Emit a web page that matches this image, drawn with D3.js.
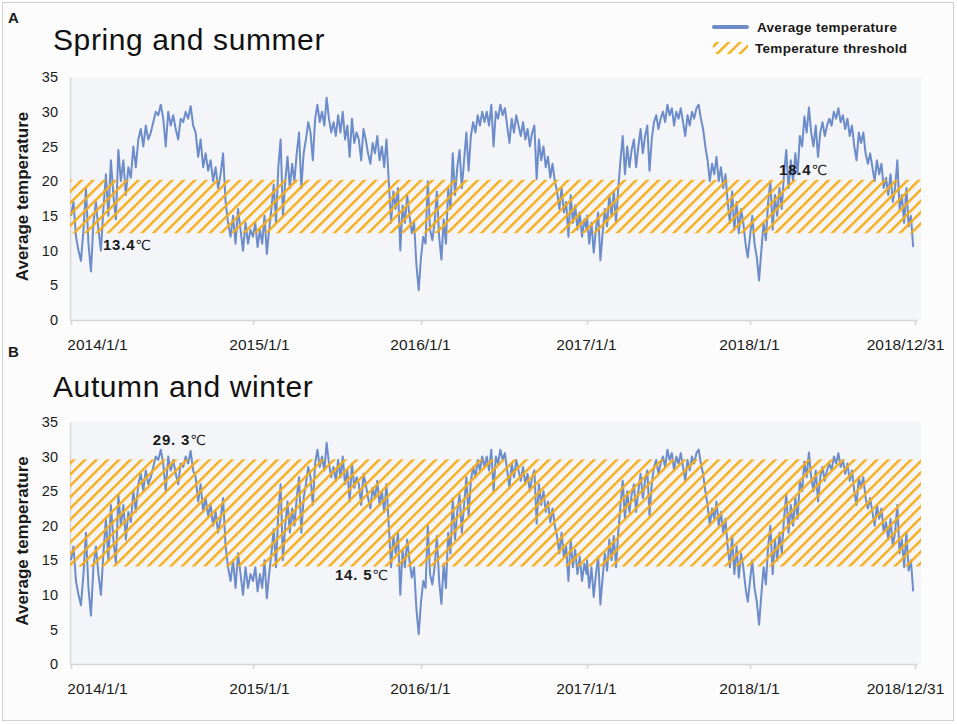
<!DOCTYPE html>
<html>
<head>
<meta charset="utf-8">
<script src="https://cdn.jsdelivr.net/npm/d3@7"></script>
<style>
  body { margin: 0; background: #fff; }
  svg { display: block; font-family: "Liberation Sans", Arial, sans-serif; }
</style>
</head>
<body>
<svg id="chart" width="957" height="724"></svg>
<script>
// daily mean temperature, one reading every 5 days from Jan 1 of each year
const years = [2014, 2015, 2016, 2017, 2018];
const temp2014 = [15,17,12,10,8.5,13,19,11,7,14,17,13,10,16,21,15,23,18,14.5,24.5,20,23,18,22,20.5,25,22,26,27.5,25,28,26,27,28.5,30,29.5,31,29,25,30,28,29.5,27.5,26,29,28.5,30,29,30.8,28,27,23.5,26,22,24,21.5,23,20,22,19,21,24,17,14,12,15,11,16,13,10,14,11,13];
const temp2015 = [12,14,10.5,13,11,15,9.5,13,16,19.5,14,22,26,15,20,23.5,19,22.5,20,24,27,19,24,26,28.5,27,23,29,31,28.5,30,28,32,29,27,28.5,26.5,29.5,27,30,26,28,23.5,29,25.5,27,26,23,27.5,26,24,22.5,25.5,24,26.5,23,25,22,26,20,14,18.5,16,19,10,16.5,14,18,15,12.5,14,8,4.3];
const temp2016 = [9,12,11,20,13,11.5,14,18.5,12,8.7,14.5,11,19,16,24,18,22,24.5,19,23,27,21.5,26.5,28.5,27,29.5,28,30,28.5,30,28,31,25,30,29,31,29.5,30.5,28,25.5,29,27,29.5,28,26.5,28.5,26,27.5,25,27,28,20.3,26,23,25,22,23.5,20.5,22.5,20,18.5,16,19,15.5,17,12,18,14,16.5,13,15.5,12,14.5,13];
const temp2017 = [15,11,14,9.7,13,15.5,8.6,12.5,16,13.5,18,15,18.5,14,19,23,26.5,21,25,22,24.5,26,22,25,27.5,24,26.5,28,21.5,26,28.5,29.5,27.5,29,30,28.5,31,29.5,30.5,28,30,29,30.5,28.5,26.5,29.5,28,30,29,30.5,31,29,27.5,25,23,20,22.5,21,23.5,20,22,19,21,17,14,18.5,13,17,12.5,16,14,11,9];
const temp2018 = [12,15,11,9,5.7,10,14,11.5,17,20,13,18,15,19,16,21,24.5,19,23,20,24,21,26.5,25,29.3,27,30.6,27,25,28,23.5,27,28.5,26.5,28,29,28,30,29,30.5,28.5,29.5,27.5,29,26.5,28,25,23,27,25.5,27,24,22.5,24,22,20,23,21,22.5,19,20.5,18,21,17,19,23,16,18,14,19,13.5,15,10.5];

const tickDates = ["2014-01-01", "2015-01-01", "2016-01-01", "2017-01-01", "2018-01-01", "2018-12-31"];
const tickLabels = ["2014/1/1", "2015/1/1", "2016/1/1", "2017/1/1", "2018/1/1", "2018/12/31"];
const yTicks = [0, 5, 10, 15, 20, 25, 30, 35];

// threshold bands [low, high]
const springBand = [12.5, 20.2];
const autumnBand = [14.1, 29.6];

const springNotes = [
  { date: "2014-03-06", value: 10.8, num: "13.4" },
  { date: "2018-03-06", value: 21.6, num: "18.4" }
];
const autumnNotes = [
  { date: "2014-06-14", value: 32.4, num: "29. 3" },
  { date: "2015-06-28", value: 12.9, num: "14. 5" }
];

const parse = d3.timeParse("%Y-%m-%d");
const series = [temp2014, temp2015, temp2016, temp2017, temp2018];
const data = [];
series.forEach((vals, k) => {
  vals.forEach((v, i) => {
    data.push({ date: d3.timeDay.offset(new Date(years[k], 0, 1), i * 5), value: v });
  });
});

const COLORS = {
  line   : '#6d8cca',
  hatch  : '#f6ad18',
  plotBg : '#f4f5f9',
  axis   : '#d6d6d6',
  text   : '#1a1a1a'
};

const svg = d3.select('#chart');

svg.append('rect')
  .attr('x', 2.5).attr('y', 2.5)
  .attr('width', 951).attr('height', 718)
  .attr('fill', '#fcfcfc')
  .attr('stroke', '#cfcfcf');

const defs = svg.append('defs');
defs.append('pattern')
  .attr('id', 'hatch')
  .attr('patternUnits', 'userSpaceOnUse')
  .attr('width', 8).attr('height', 8)
  .attr('patternTransform', 'rotate(45)')
  .append('rect')
  .attr('x', 0).attr('y', 0).attr('width', 2.4).attr('height', 8)
  .attr('fill', COLORS.hatch);

// uneven spacing of the year ticks in the source, kept with a piecewise time scale
const x = d3.scaleTime()
  .domain(tickDates.map(parse))
  .range([71, 253, 421, 587, 750, 915]);

const panels = [
  { key: 'A', title: 'Spring and summer', top: 77, bottom: 320, letterY: 23, titleY: 50,
    band: springBand, notes: springNotes, legend: true },
  { key: 'B', title: 'Autumn and winter', top: 422, bottom: 664, letterY: 357, titleY: 397,
    band: autumnBand, notes: autumnNotes, legend: false }
];

const left = 70, right = 921;

panels.forEach(p => {
  const y = d3.scaleLinear().domain([0, 35]).range([p.bottom, p.top]);
  const g = svg.append('g');

  g.append('text')
    .attr('x', 8).attr('y', p.letterY)
    .attr('font-size', 15).attr('font-weight', 'bold')
    .attr('fill', COLORS.text)
    .text(p.key);

  g.append('text')
    .attr('x', 53).attr('y', p.titleY)
    .attr('font-size', 30).attr('letter-spacing', 0.6)
    .attr('fill', '#111')
    .text(p.title);

  g.append('rect')
    .attr('x', left).attr('y', p.top)
    .attr('width', right - left).attr('height', p.bottom - p.top)
    .attr('fill', COLORS.plotBg);

  // y axis
  const yAxis = g.append('g')
    .attr('transform', `translate(${left},0)`)
    .call(d3.axisLeft(y).tickValues(yTicks).tickSize(0).tickPadding(12));
  yAxis.select('.domain').attr('stroke', COLORS.axis).attr('stroke-width', 1.5);
  yAxis.selectAll('text').attr('font-size', 14.5).attr('fill', COLORS.text).attr('font-family', null);

  // x axis
  const xAxis = g.append('g')
    .attr('transform', `translate(0,${p.bottom})`)
    .call(d3.axisBottom(x)
      .tickValues(tickDates.map(parse))
      .tickFormat((d, i) => tickLabels[i])
      .tickSize(5).tickSizeOuter(0));
  xAxis.select('.domain')
    .attr('d', `M${left},0.5H918`)
    .attr('stroke', COLORS.axis).attr('stroke-width', 1.5);
  xAxis.selectAll('.tick line').attr('stroke', COLORS.axis).attr('stroke-width', 1.5);
  xAxis.selectAll('text')
    .attr('font-size', 15.5).attr('fill', COLORS.text).attr('font-family', null)
    .attr('y', 30).attr('dy', null)
    .attr('dx', (d, i) => i === 0 ? 26 : (i === tickLabels.length - 1 ? -10 : (i === 1 ? 6 : -1)));

  const yLabelMid = (p.top + p.bottom) / 2;
  g.append('text')
    .attr('transform', `translate(28,${yLabelMid - 2}) rotate(-90)`)
    .attr('text-anchor', 'middle')
    .attr('font-size', 17).attr('font-weight', 'bold')
    .attr('fill', COLORS.text)
    .text('Average temperature');

  // temperature line
  const line = d3.line()
    .x(d => x(d.date))
    .y(d => y(d.value));
  g.append('path')
    .datum(data)
    .attr('fill', 'none')
    .attr('stroke', COLORS.line)
    .attr('stroke-width', 2)
    .attr('stroke-linejoin', 'round')
    .attr('d', line);

  // threshold band, drawn over the line
  g.append('rect')
    .attr('x', left).attr('width', right - left)
    .attr('y', y(p.band[1]))
    .attr('height', y(p.band[0]) - y(p.band[1]))
    .attr('fill', 'url(#hatch)');

  p.notes.forEach(n => {
    const t = g.append('text')
      .attr('x', x(parse(n.date)))
      .attr('y', y(n.value))
      .attr('dy', '0.35em')
      .attr('font-size', 15)
      .attr('fill', COLORS.text);
    t.append('tspan').attr('font-weight', 'bold').attr('letter-spacing', 0.8).text(n.num);
    t.append('tspan').attr('font-family', '"DejaVu Sans", sans-serif').attr('font-size', 14).text('℃');
  });

  if (p.legend) {
    const lg = g.append('g');
    lg.append('line')
      .attr('x1', 714).attr('x2', 747)
      .attr('y1', 27).attr('y2', 27)
      .attr('stroke', COLORS.line)
      .attr('stroke-width', 4)
      .attr('stroke-linecap', 'round');
    lg.append('rect')
      .attr('x', 713).attr('y', 42)
      .attr('width', 35).attr('height', 12)
      .attr('fill', 'url(#hatch)');
    lg.append('text')
      .attr('x', 757).attr('y', 32)
      .attr('font-size', 13.5).attr('font-weight', 'bold')
      .attr('letter-spacing', 0.3)
      .attr('fill', COLORS.text)
      .text('Average temperature');
    lg.append('text')
      .attr('x', 755).attr('y', 53)
      .attr('font-size', 13.5).attr('font-weight', 'bold')
      .attr('letter-spacing', 0.3)
      .attr('fill', COLORS.text)
      .text('Temperature threshold');
  }
});
</script>
</body>
</html>
